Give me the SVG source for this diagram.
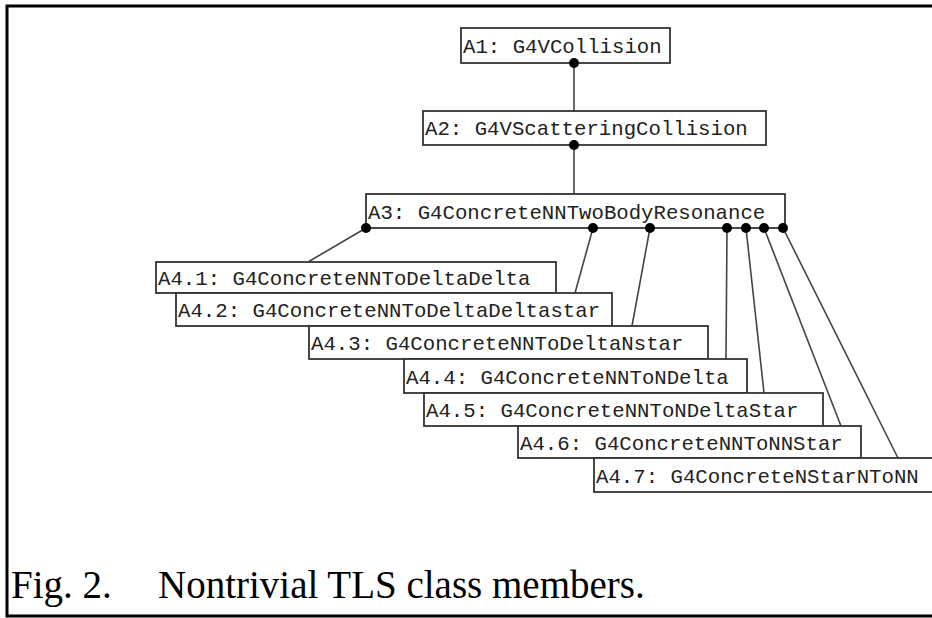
<svg xmlns="http://www.w3.org/2000/svg" width="932" height="618" viewBox="0 0 932 618">
<style>
.box{fill:#fff;stroke:#333;stroke-width:1.8}
.lbl{font-family:"Liberation Mono","Courier New",monospace;font-size:20.7px;fill:#222}
.con{stroke:#444;stroke-width:1.6;fill:none}
.dot{fill:#000}
.cap{font-family:"Liberation Serif","Times New Roman",serif;font-size:39px;fill:#000}
</style>
<rect width="932" height="618" fill="#fff"/>
<path d="M940 6 H7 V616 H940" fill="none" stroke="#000" stroke-width="3"/>
<g id="connectors">
<line class="con" x1="574" y1="63" x2="574" y2="111"/>
<line class="con" x1="574" y1="145" x2="574" y2="194"/>
<line class="con" x1="366" y1="228" x2="308" y2="262"/>
<line class="con" x1="593" y1="228" x2="575" y2="293"/>
<line class="con" x1="650" y1="228" x2="632" y2="326"/>
<line class="con" x1="727" y1="228" x2="726" y2="359"/>
<line class="con" x1="746" y1="228" x2="764" y2="393"/>
<line class="con" x1="764" y1="228" x2="841" y2="426"/>
<line class="con" x1="783" y1="228" x2="898" y2="458"/>
</g>
<g id="A1"><rect class="box" x="461" y="28" width="209" height="35"/><text class="lbl" x="463" y="53">A1: G4VCollision</text></g>
<g id="A2"><rect class="box" x="423" y="111" width="343" height="34"/><text class="lbl" x="425" y="135">A2: G4VScatteringCollision</text></g>
<g id="A3"><rect class="box" x="366" y="194" width="419" height="34"/><text class="lbl" x="368" y="219">A3: G4ConcreteNNTwoBodyResonance</text></g>
<g id="A4.1"><rect class="box" x="156" y="262" width="400" height="31"/><text class="lbl" x="158" y="285">A4.1: G4ConcreteNNToDeltaDelta</text></g>
<g id="A4.2"><rect class="box" x="176" y="293" width="436" height="33"/><text class="lbl" x="178" y="317">A4.2: G4ConcreteNNToDeltaDeltastar</text></g>
<g id="A4.3"><rect class="box" x="309" y="326" width="399" height="33"/><text class="lbl" x="311" y="350">A4.3: G4ConcreteNNToDeltaNstar</text></g>
<g id="A4.4"><rect class="box" x="404" y="359" width="343" height="34"/><text class="lbl" x="406" y="384">A4.4: G4ConcreteNNToNDelta</text></g>
<g id="A4.5"><rect class="box" x="424" y="393" width="399" height="33"/><text class="lbl" x="426" y="417">A4.5: G4ConcreteNNToNDeltaStar</text></g>
<g id="A4.6"><rect class="box" x="518" y="426" width="343" height="32"/><text class="lbl" x="520" y="450">A4.6: G4ConcreteNNToNNStar</text></g>
<g id="A4.7"><rect class="box" x="594" y="458" width="345" height="34"/><text class="lbl" x="596" y="483">A4.7: G4ConcreteNStarNToNN</text></g>
<g id="dots">
<circle class="dot" cx="574" cy="63" r="5"/>
<circle class="dot" cx="574" cy="145" r="5"/>
<circle class="dot" cx="366" cy="228" r="5"/>
<circle class="dot" cx="593" cy="228" r="5"/>
<circle class="dot" cx="650" cy="228" r="5"/>
<circle class="dot" cx="727" cy="228" r="5"/>
<circle class="dot" cx="746" cy="228" r="5"/>
<circle class="dot" cx="764" cy="228" r="5"/>
<circle class="dot" cx="783" cy="228" r="5"/>
</g>
<text class="cap" x="11" y="598">Fig. 2.<tspan x="158">Nontrivial TLS class members.</tspan></text>
</svg>
